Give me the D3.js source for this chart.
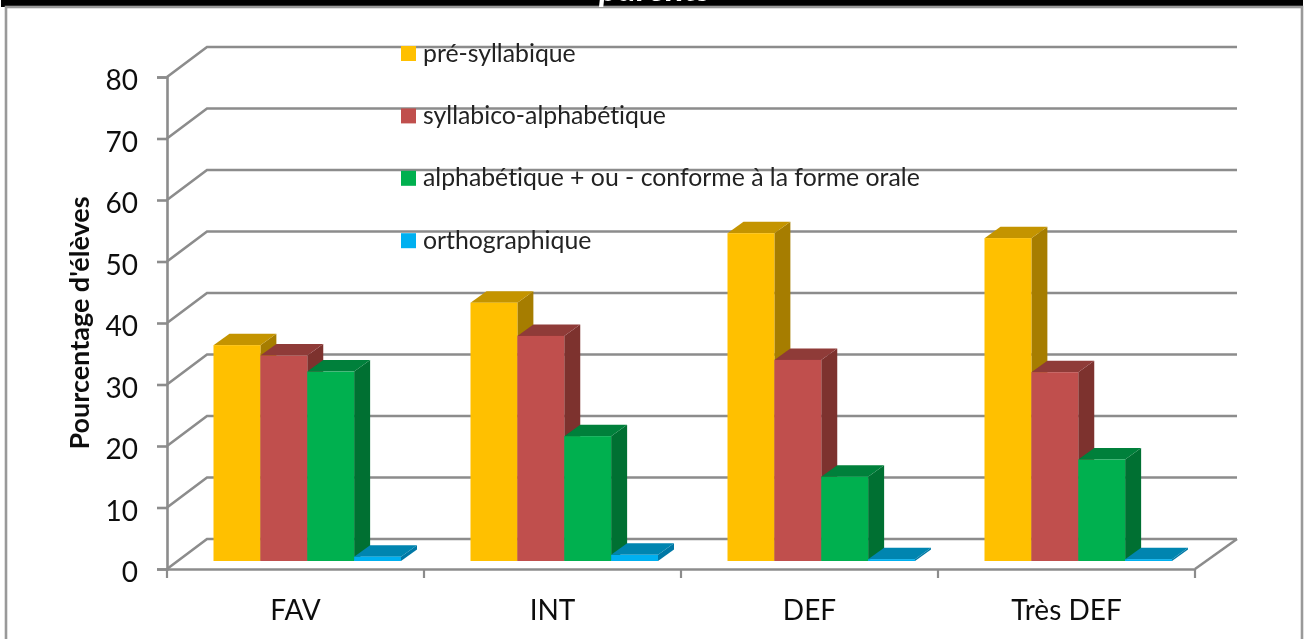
<!DOCTYPE html>
<html>
<head>
<meta charset="utf-8">
<script src="https://cdnjs.cloudflare.com/ajax/libs/d3/7.9.0/d3.min.js"></script>
<style>
  body { margin: 0; background: #fff; }
  svg { display: block; font-family: Lato, sans-serif; font-variant-ligatures: none; }
</style>
</head>
<body>
<script>
const categories = ["FAV", "INT", "DEF", "Très DEF"];
const seriesNames = ["pré-syllabique", "syllabico-alphabétique", "alphabétique + ou - conforme à la forme orale", "orthographique"];
const preSyllabique = [35.1, 42.0, 53.3, 52.5];
const syllabicoAlpha = [33.4, 36.6, 32.7, 30.7];
const alphabetique = [30.8, 20.3, 13.7, 16.5];
const orthographique = [0.7, 1.0, 0.3, 0.3];
const yTicks = [0, 10, 20, 30, 40, 50, 60, 70, 80];
const frontColors = ["#FFC000", "#C0504D", "#00B050", "#00B0F0"];
const topColors = ["#C49400", "#8F3A38", "#00803A", "#0085B0"];
const sideColors = ["#A67D00", "#7D302E", "#006F32", "#0078A5"];

const allSeries = [preSyllabique, syllabicoAlpha, alphabetique, orthographique];

const width = 1305;
const height = 639;
const gridColor = "#8c8c8c";

const svg = d3.select("body").append("svg")
  .attr("width", width)
  .attr("height", height);

// the picture is a soft upscaled screenshot
svg.append("filter").attr("id", "soft")
  .append("feGaussianBlur").attr("stdDeviation", 0.5);

const root = svg.append("g").attr("filter", "url(#soft)");

const y = d3.scaleLinear().domain([0, 80]).range([569, 77]);
const x0 = d3.scaleBand().domain(categories).range([167, 1195]);
const x1 = d3.scaleBand().domain(seriesNames).range([0, 187.5]);

// depth of the walls and of the bars
const wallDx = 40, wallDy = -30;
const barDx = 16, barDy = -11.5;
const barShiftX = 46.5, barShiftY = -8;

// frame and the title above it, cut by the top edge as in the source image
root.append("rect").attr("x", 1).attr("y", 0).attr("width", 1302).attr("height", 7).attr("fill", "#000");
root.append("rect").attr("x", 6).attr("y", 7).attr("width", 1296).attr("height", 650)
  .attr("fill", "#fff").attr("stroke", "#999").attr("stroke-width", 2.6);
root.append("text")
  .attr("x", 655).attr("y", 1)
  .attr("text-anchor", "middle")
  .attr("font-size", 35).attr("font-weight", 700).attr("font-style", "italic")
  .attr("fill", "#fff")
  .text("parents");

// gridlines on the back wall and side wall
const grid = root.append("g").attr("fill", "none").attr("stroke", gridColor).attr("stroke-width", 2.6);
grid.selectAll("path")
  .data(yTicks)
  .join("path")
  .attr("d", d => `M${x0.range()[0]},${y(d)}L${x0.range()[0] + wallDx},${y(d) + wallDy}L${x0.range()[1] + wallDx + 2},${y(d) + wallDy}`);

// floor edge on the right
grid.append("path")
  .attr("d", `M${x0.range()[1]},${y(0)}L${x0.range()[1] + wallDx + 2},${y(0) + wallDy}`);

// y axis
const yAxis = root.append("g")
  .attr("transform", `translate(${x0.range()[0]},0)`)
  .call(d3.axisLeft(y).tickValues(yTicks).tickSize(10).tickPadding(19));
yAxis.selectAll("path, line").attr("stroke", gridColor).attr("stroke-width", 2.6);
yAxis.selectAll("text").attr("font-family", "Lato, sans-serif").attr("font-size", 28).attr("fill", "#111").attr("dy", "0.46em");

// x axis, ticks sit between the categories
const xAxis = root.append("g")
  .attr("transform", `translate(0,${y(0)})`)
  .call(d3.axisBottom(x0).tickSize(0).tickPadding(31));
xAxis.selectAll("path").attr("stroke", gridColor).attr("stroke-width", 2.6);
xAxis.selectAll("text").attr("font-family", "Lato, sans-serif").attr("font-size", 28).attr("fill", "#111");
xAxis.append("g").selectAll("line")
  .data(categories.concat(["end"]))
  .join("line")
  .attr("x1", (d, i) => x0.range()[0] + i * x0.step())
  .attr("x2", (d, i) => x0.range()[0] + i * x0.step())
  .attr("y1", 0).attr("y2", 9)
  .attr("stroke", gridColor).attr("stroke-width", 2.2);

// legend
const legend = root.append("g")
  .selectAll("g")
  .data(seriesNames)
  .join("g")
  .attr("transform", (d, i) => `translate(401,${46 + i * 62.4})`);
legend.append("rect")
  .attr("width", 15).attr("height", 15)
  .attr("fill", (d, i) => frontColors[i]);
legend.append("text")
  .attr("x", 22).attr("y", 15.5)
  .attr("font-size", 24.8).attr("fill", "#222")
  .text(d => d);

// y axis title
root.append("text")
  .attr("transform", "translate(89,323) rotate(-90)")
  .attr("text-anchor", "middle")
  .attr("font-size", 27).attr("font-weight", 700).attr("fill", "#111")
  .text("Pourcentage d'élèves");

// bars, each one is side + top + front
const bars = root.append("g");
categories.forEach((cat, c) => {
  seriesNames.forEach((name, s) => {
    const value = allSeries[s][c];
    const left = x0(cat) + barShiftX + x1(name);
    const right = left + x1.bandwidth();
    const top = y(value) + barShiftY;
    const base = y(0) + barShiftY;

    bars.append("path")
      .attr("fill", sideColors[s])
      .attr("d", `M${right},${base}L${right + barDx},${base + barDy}L${right + barDx},${top + barDy}L${right},${top}Z`);
    bars.append("path")
      .attr("fill", topColors[s])
      .attr("d", `M${left},${top}L${left + barDx},${top + barDy}L${right + barDx},${top + barDy}L${right},${top}Z`);
    bars.append("rect")
      .attr("x", left).attr("y", top)
      .attr("width", x1.bandwidth()).attr("height", base - top)
      .attr("fill", frontColors[s]);
  });
});
</script>
</body>
</html>
